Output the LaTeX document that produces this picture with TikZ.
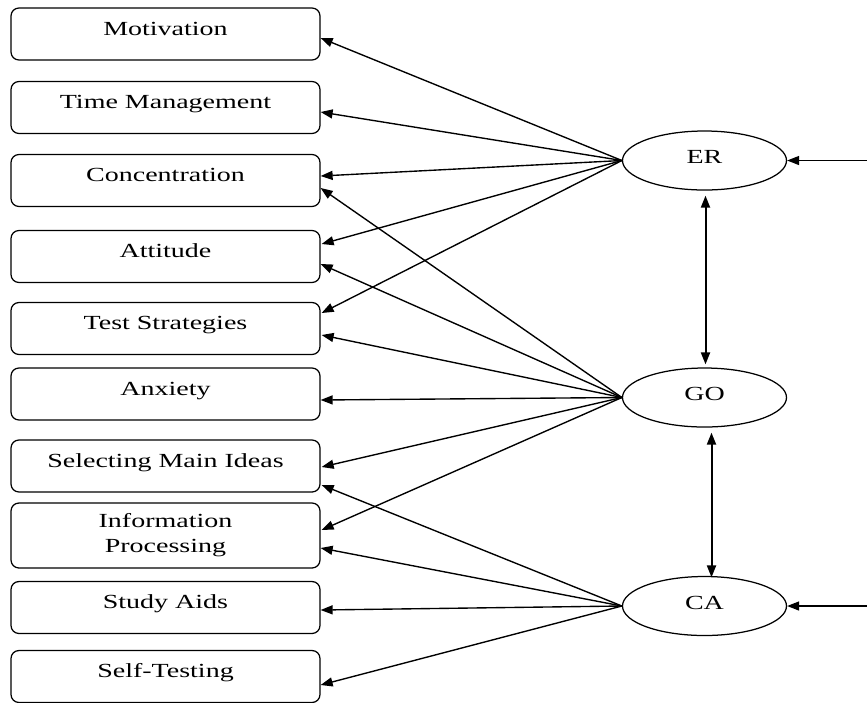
\documentclass[tikz,border=0pt]{standalone}
\usepackage{fontspec}
\setmainfont[FakeStretch=1.4]{Liberation Serif}
\usetikzlibrary{shapes.geometric,arrows.meta,calc}

\begin{document}
\begin{tikzpicture}[x=0.4pt,y=-0.4pt,
   font=\fontsize{8}{10}\selectfont,
   basebox/.style={draw, rounded corners=3.2pt, line width=0.5pt, minimum width=123.6pt, inner sep=0pt},
   itembox/.style={basebox, minimum height=20.8pt, text height=4.8pt, text depth=4pt},
   factor/.style={draw, ellipse, line width=0.5pt, minimum width=65.6pt, minimum height=23.6pt, inner sep=0pt, text height=5.6pt, text depth=3.2pt},
   load/.style={-{Triangle[length=4.8pt,width=3.6pt]}, line width=0.55pt},
   covar/.style={{Triangle[length=4.8pt,width=3.6pt]}-{Triangle[length=4.8pt,width=3.6pt]}, line width=0.8pt}]

   \useasboundingbox (0,0) rectangle (867,702);

   \node (Motivation) at (165.5,34) [itembox] {Motivation};
   \node (TimeManagement) at (165.5,107.5) [itembox] {Time Management};
   \node (Concentration) at (165.5,180.5) [itembox] {Concentration};
   \node (Attitude) at (165.5,256.5) [itembox] {Attitude};
   \node (TestStrategies) at (165.5,328.5) [itembox] {Test Strategies};
   \node (Anxiety) at (165.5,394) [itembox] {Anxiety};
   \node (SelectingMainIdeas) at (165.5,466) [itembox] {Selecting Main Ideas};
   \node (InformationProcessing) at (165.5,535.5) [basebox, minimum height=26pt, align=center] {Information\\Processing};
   \node (StudyAids) at (165.5,607.5) [itembox] {Study Aids};
   \node (SelfTesting) at (165.5,676.5) [itembox] {Self-Testing};

   \node (ER) at (704.5,160.5) [factor] {ER};
   \node (GO) at (704.5,397.5) [factor] {GO};
   \node (CA) at (704.5,606) [factor] {CA};

   \coordinate (ERin) at (867,160.5);
   \coordinate (CAin) at (867,606);

   \draw [load] (ERin) -- (ER.east);
   \draw [load] (CAin) -- (CA.east);

   \draw [covar] ($(ER.south)+(1,5)$) -- ($(GO.north)+(1,-3)$);
   \draw [covar] ($(GO.south)+(7,5)$) -- ($(CA.north)+(7,1.5)$);

   \draw [load] (ER.west) -- ($(Motivation.east)+(0,4)$);
   \draw [load] (ER.west) -- ($(TimeManagement.east)+(0,4.5)$);
   \draw [load] (ER.west) -- ($(Concentration.east)+(0,-4.5)$);
   \draw [load] (ER.west) -- ($(Attitude.east)+(1,-12.5)$);
   \draw [load] (ER.west) -- ($(TestStrategies.east)+(1,-15.5)$);

   \draw [load] (GO.west) -- ($(Concentration.east)+(0,7.5)$);
   \draw [load] (GO.west) -- ($(Attitude.east)+(0,7.5)$);
   \draw [load] (GO.west) -- ($(TestStrategies.east)+(1,6.5)$);
   \draw [load] (GO.west) -- ($(Anxiety.east)+(0,6)$);
   \draw [load] (GO.west) -- ($(SelectingMainIdeas.east)+(1,1)$);
   \draw [load] (GO.west) -- ($(InformationProcessing.east)+(1,-5.5)$);

   \draw [load] (CA.west) -- ($(SelectingMainIdeas.east)+(1,19)$);
   \draw [load] (CA.west) -- ($(InformationProcessing.east)+(0,12.5)$);
   \draw [load] (CA.west) -- ($(StudyAids.east)+(0,2.5)$);
   \draw [load] (CA.west) -- ($(SelfTesting.east)+(0,8.5)$);

\end{tikzpicture}
\end{document}
